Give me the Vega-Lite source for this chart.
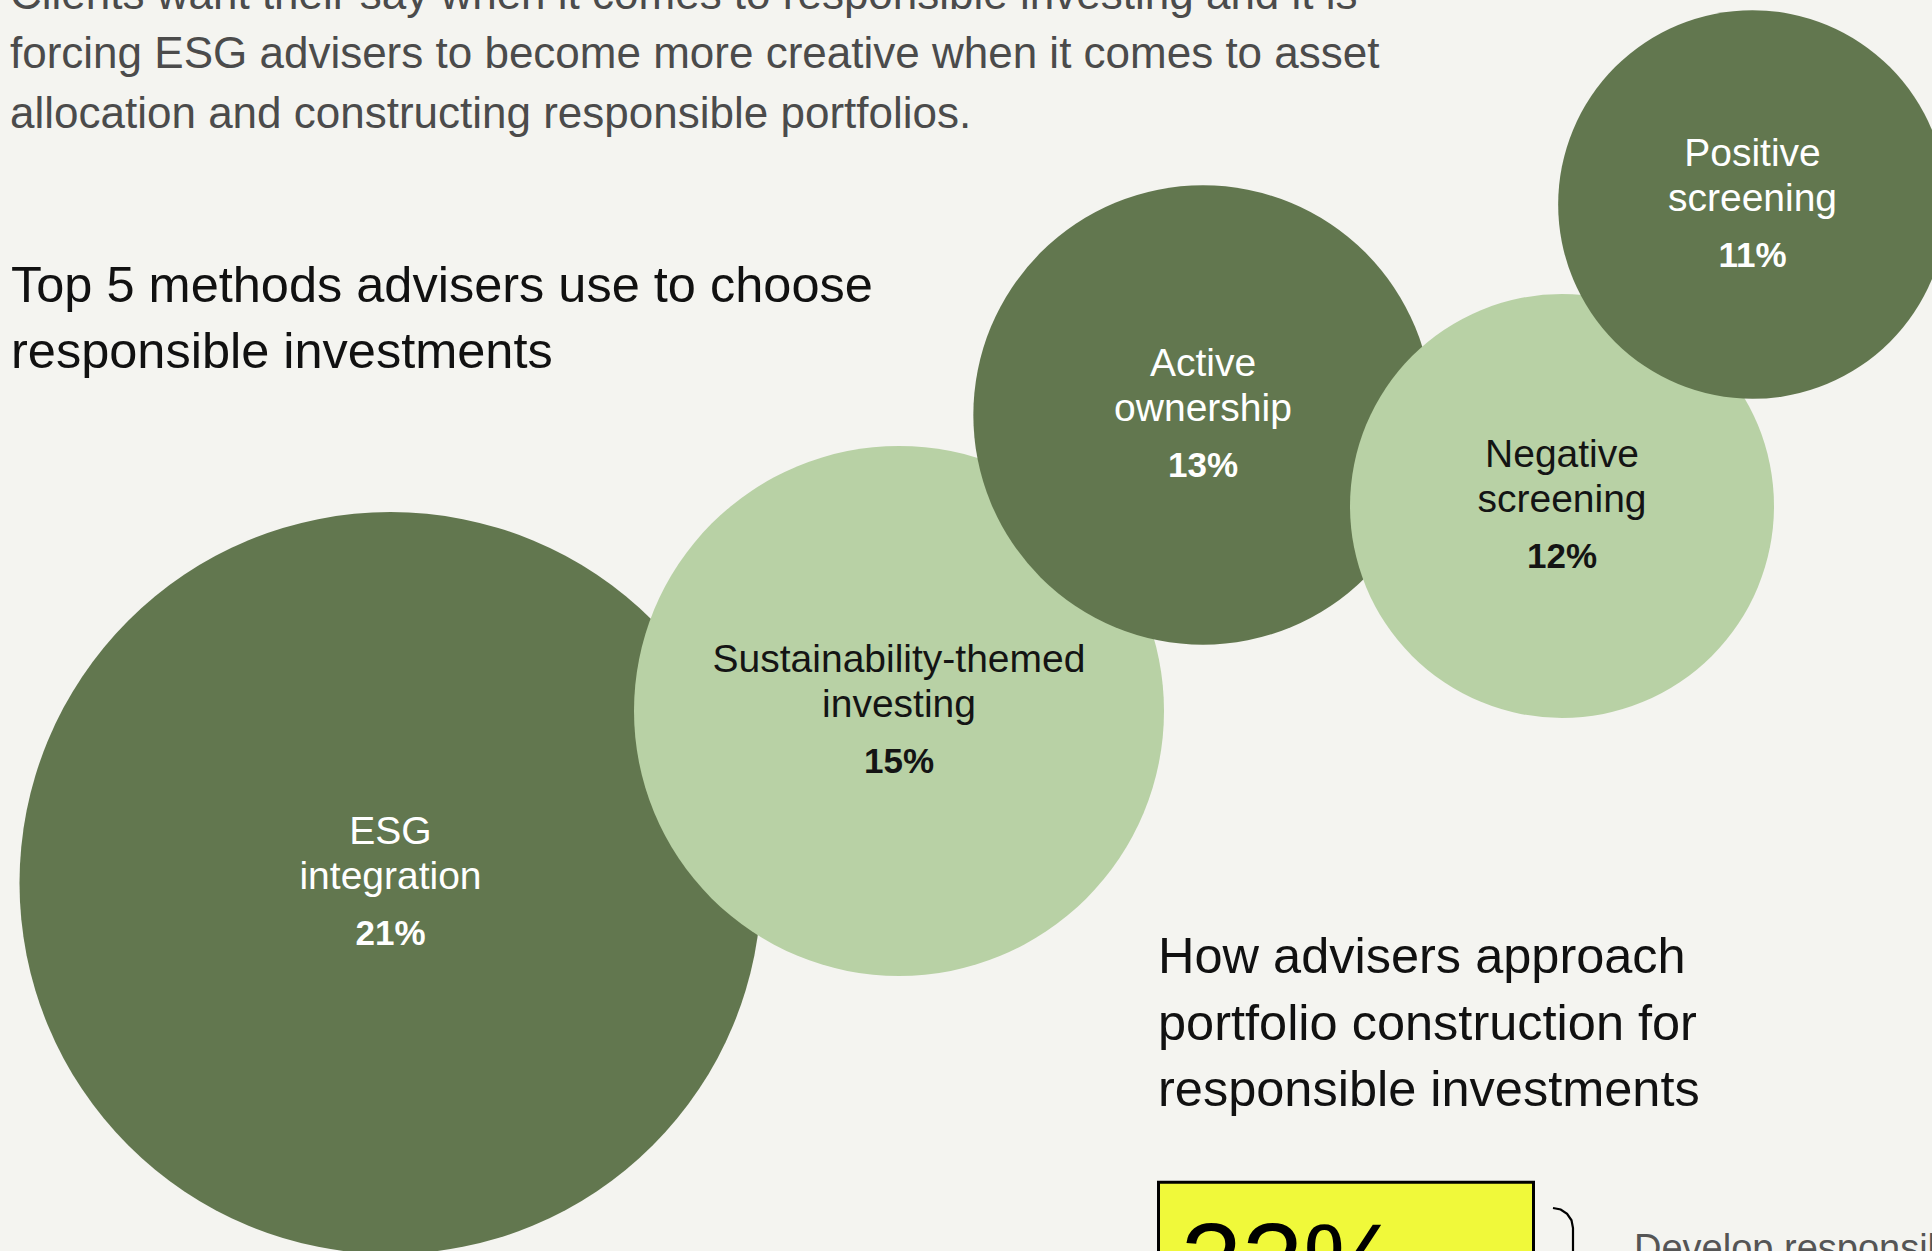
{
  "$schema": "https://vega.github.io/schema/vega-lite/v6.json",
  "width": 1932,
  "height": 1251,
  "autosize": {"type": "none"},
  "padding": 0,
  "background": "#f4f4f0",
  "config": {"view": {"stroke": null}, "font": "Liberation Sans"},
  "datasets": {
    "methods": [
      {"method": "ESG integration", "label": "ESG\nintegration", "share": 21, "x": 390.5, "y": 883},
      {"method": "Sustainability-themed investing", "label": "Sustainability-themed\ninvesting", "share": 15, "x": 899, "y": 711},
      {"method": "Active ownership", "label": "Active\nownership", "share": 13, "x": 1203, "y": 415},
      {"method": "Negative screening", "label": "Negative\nscreening", "share": 12, "x": 1562, "y": 506},
      {"method": "Positive screening", "label": "Positive\nscreening", "share": 11, "x": 1752.5, "y": 204.5}
    ],
    "paragraph": [
      {"text": "Clients want their say when it comes to responsible investing and it is\nforcing ESG advisers to become more creative when it comes to asset\nallocation and constructing responsible portfolios.", "x": 10, "y": 8.8}
    ],
    "headings": [
      {"text": "Top 5 methods advisers use to choose\nresponsible investments", "x": 11, "y": 301.5},
      {"text": "How advisers approach\nportfolio construction for\nresponsible investments", "x": 1158, "y": 973}
    ],
    "box": [
      {"x": 1158.5, "x2": 1533.5, "y": 1182.2, "y2": 1330}
    ],
    "bignum": [
      {"text": "33%", "x": 1181, "y": 1300}
    ],
    "brace": [
      {"i": 0, "x": 1553, "y": 1208},
      {"i": 1, "x": 1560.7, "y": 1209.5},
      {"i": 2, "x": 1567.1, "y": 1213.9},
      {"i": 3, "x": 1571.5, "y": 1220.3},
      {"i": 4, "x": 1573, "y": 1228},
      {"i": 5, "x": 1573, "y": 1270}
    ],
    "note": [
      {"text": "Develop responsible portfolios", "x": 1634, "y": 1261}
    ]
  },
  "layer": [
    {
      "data": {"name": "methods"},
      "mark": {"type": "circle", "opacity": 1, "stroke": null},
      "encoding": {
        "x": {"field": "x", "type": "quantitative", "scale": {"domain": [0, 1932], "nice": false, "zero": false}, "axis": null},
        "y": {"field": "y", "type": "quantitative", "scale": {"domain": [0, 1251], "nice": false, "zero": false, "reverse": true}, "axis": null},
        "size": {"field": "share", "type": "quantitative", "scale": {"type": "pow", "exponent": 2, "domain": [0, 21], "range": [0, 550564]}, "legend": null},
        "fill": {"field": "method", "type": "nominal", "sort": null, "scale": {"domain": ["ESG integration", "Sustainability-themed investing", "Active ownership", "Negative screening", "Positive screening"], "range": ["#62774f", "#b8d1a5", "#62774f", "#b8d1a5", "#62774f"]}, "legend": null}
      }
    },
    {
      "data": {"name": "methods"},
      "mark": {"type": "text", "align": "center", "baseline": "alphabetic", "dy": -39, "fontSize": 39, "lineHeight": 45, "lineBreak": "\n"},
      "encoding": {
        "x": {"field": "x", "type": "quantitative"},
        "y": {"field": "y", "type": "quantitative"},
        "text": {"field": "label", "type": "nominal"},
        "color": {"field": "method", "type": "nominal", "scale": {"domain": ["ESG integration", "Sustainability-themed investing", "Active ownership", "Negative screening", "Positive screening"], "range": ["#ffffff", "#141414", "#ffffff", "#141414", "#ffffff"]}, "legend": null}
      }
    },
    {
      "data": {"name": "methods"},
      "transform": [{"calculate": "datum.share + '%'", "as": "pct"}],
      "mark": {"type": "text", "align": "center", "baseline": "alphabetic", "dy": 62, "fontSize": 35, "fontWeight": "bold"},
      "encoding": {
        "x": {"field": "x", "type": "quantitative"},
        "y": {"field": "y", "type": "quantitative"},
        "text": {"field": "pct", "type": "nominal"},
        "color": {"field": "method", "type": "nominal", "legend": null}
      }
    },
    {
      "data": {"name": "paragraph"},
      "mark": {"type": "text", "align": "left", "baseline": "alphabetic", "fontSize": 44, "lineHeight": 59.6, "lineBreak": "\n", "color": "#4b4b4b"},
      "encoding": {
        "x": {"field": "x", "type": "quantitative"},
        "y": {"field": "y", "type": "quantitative"},
        "text": {"field": "text", "type": "nominal"}
      }
    },
    {
      "data": {"name": "headings"},
      "mark": {"type": "text", "align": "left", "baseline": "alphabetic", "fontSize": 50.5, "lineHeight": 66.5, "lineBreak": "\n", "color": "#111111"},
      "encoding": {
        "x": {"field": "x", "type": "quantitative"},
        "y": {"field": "y", "type": "quantitative"},
        "text": {"field": "text", "type": "nominal"}
      }
    },
    {
      "data": {"name": "box"},
      "mark": {"type": "rect", "fill": "#f0f93a", "stroke": "#000000", "strokeWidth": 3},
      "encoding": {
        "x": {"field": "x", "type": "quantitative"},
        "x2": {"field": "x2"},
        "y": {"field": "y", "type": "quantitative"},
        "y2": {"field": "y2"}
      }
    },
    {
      "data": {"name": "bignum"},
      "mark": {"type": "text", "align": "left", "baseline": "alphabetic", "fontSize": 110, "color": "#000000"},
      "encoding": {
        "x": {"field": "x", "type": "quantitative"},
        "y": {"field": "y", "type": "quantitative"},
        "text": {"field": "text", "type": "nominal"}
      }
    },
    {
      "data": {"name": "brace"},
      "mark": {"type": "line", "color": "#000000", "strokeWidth": 2.2},
      "encoding": {
        "x": {"field": "x", "type": "quantitative"},
        "y": {"field": "y", "type": "quantitative"},
        "order": {"field": "i", "type": "quantitative"}
      }
    },
    {
      "data": {"name": "note"},
      "mark": {"type": "text", "align": "left", "baseline": "alphabetic", "fontSize": 38, "color": "#555555"},
      "encoding": {
        "x": {"field": "x", "type": "quantitative"},
        "y": {"field": "y", "type": "quantitative"},
        "text": {"field": "text", "type": "nominal"}
      }
    }
  ]
}
